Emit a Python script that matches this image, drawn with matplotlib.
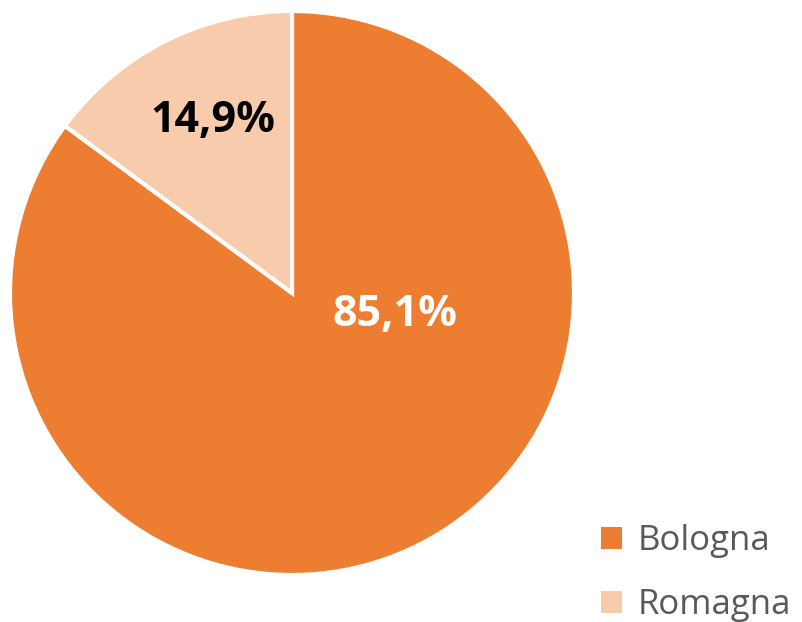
import matplotlib.pyplot as plt
from matplotlib.patches import Patch

labels = ['Bologna', 'Romagna']
values = [85.1, 14.9]
colors = ['#ED7D31', '#F8CBAD']
value_text = ['85,1%', '14,9%']
text_colors = ['white', 'black']

plt.rcParams['font.family'] = ['Open Sans', 'DejaVu Sans']

fig = plt.figure(figsize=(8.03, 6.22), dpi=100)
ax = fig.add_axes([10 / 803, 47 / 622, 564 / 803, 564 / 622])
wedges, _ = ax.pie(values, colors=colors, startangle=90, counterclock=False,
                   radius=1.0, wedgeprops=dict(edgecolor='white', linewidth=3))
ax.set_xlim(-1, 1)
ax.set_ylim(-1, 1)
ax.set_aspect('equal')

# label placement like the original (Excel-style)
label_pos = [(0.365, -0.075), (-0.28, 0.61)]
for (x, y), txt, tc in zip(label_pos, value_text, text_colors):
    ax.text(x, y, txt, ha='center', va='center', fontsize=31,
            fontweight='bold', color=tc)

handles = [Patch(facecolor=c, edgecolor='none') for c in colors]
fig.legend(handles, labels, loc='lower left', bbox_to_anchor=(570 / 803, -0.05),
           frameon=False, fontsize=25, labelcolor='#595959',
           handlelength=0.6, handleheight=0.6, handletextpad=0.45,
           labelspacing=0.85)

fig.savefig('out.png', dpi=100)
